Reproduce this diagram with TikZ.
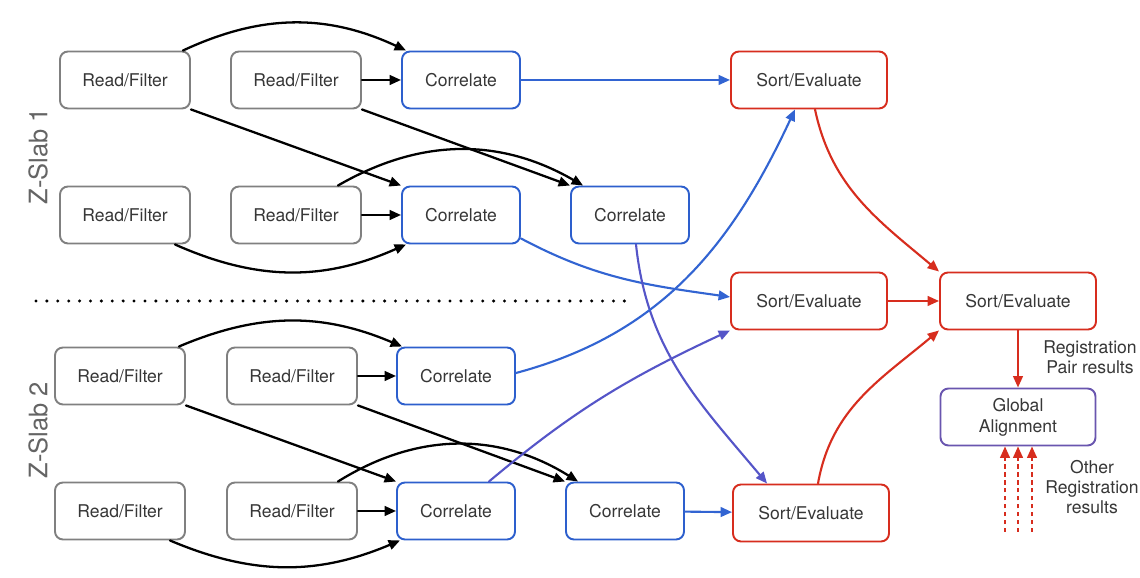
\documentclass[tikz,border=0pt]{standalone}
\usepackage{fontspec}
\setmainfont{TeX Gyre Heros}
\usetikzlibrary{arrows.meta}

\definecolor{rfgray}{RGB}{128,128,128}
\definecolor{slabgray}{RGB}{100,100,100}
\definecolor{corrblue}{RGB}{45,95,205}
\definecolor{linkblue}{RGB}{50,100,210}
\definecolor{linkviolet}{RGB}{85,85,200}
\definecolor{sortred}{RGB}{215,45,30}
\definecolor{glpurple}{RGB}{105,85,175}
\definecolor{txtgray}{RGB}{55,55,55}

\begin{document}
\begin{tikzpicture}[line cap=round,line join=round,>={Triangle[length=6.5pt,width=5.5pt]},x=1.0cm,y=1.0cm,
  box/.style={draw,rounded corners=0.16cm,line width=1.1pt,minimum height=1.14cm,text=txtgray,font=\fontsize{10}{12}\selectfont,align=center},
  rf/.style={box,draw=rfgray,minimum width=2.6cm},
  corr/.style={box,draw=corrblue,minimum width=2.36cm},
  sorteval/.style={box,draw=sortred,minimum width=3.12cm},
  glob/.style={box,draw=glpurple,minimum width=3.1cm},
  feed/.style={->,line width=1.3pt,black},
  blink/.style={->,line width=1.2pt,linkblue},
  vlink/.style={->,line width=1.2pt,linkviolet},
  rlink/.style={->,line width=1.2pt,sortred},
  note/.style={text=txtgray,font=\fontsize{10}{11.5}\selectfont,align=center},
  slab/.style={text=slabgray,font=\fontsize{14.5}{17}\selectfont,rotate=90}]
\useasboundingbox[fill=white] (0,0) rectangle (22.8,11.56);
% Z-slab 1
\node[rf] (rf11) at (2.50,9.96) {Read/Filter};
\node[rf] (rf12) at (5.92,9.96) {Read/Filter};
\node[corr] (c1) at (9.22,9.96) {Correlate};
\node[rf] (rf21) at (2.50,7.26) {Read/Filter};
\node[rf] (rf22) at (5.92,7.26) {Read/Filter};
\node[corr] (c2) at (9.22,7.26) {Correlate};
\node[corr] (c3) at (12.60,7.26) {Correlate};
% Z-slab 2
\node[rf] (rf31) at (2.40,4.04) {Read/Filter};
\node[rf] (rf32) at (5.84,4.04) {Read/Filter};
\node[corr] (c4) at (9.12,4.04) {Correlate};
\node[rf] (rf41) at (2.40,1.34) {Read/Filter};
\node[rf] (rf42) at (5.84,1.34) {Read/Filter};
\node[corr] (c5) at (9.12,1.34) {Correlate};
\node[corr] (c6) at (12.50,1.34) {Correlate};
% sort / evaluate
\node[sorteval] (se1) at (16.18,9.96) {Sort/Evaluate};
\node[sorteval] (se2) at (16.18,5.54) {Sort/Evaluate};
\node[sorteval] (se3) at (16.22,1.30) {Sort/Evaluate};
\node[sorteval] (se4) at (20.36,5.54) {Sort/Evaluate};
\node[glob] (ga) at (20.36,3.22) {Global\\Alignment};
\node[note] (regpair) at (21.80,4.42) {Registration\\Pair results};
\node[note] (othres) at (21.84,1.82) {Other\\Registration\\results};
\node[slab] (zs1) at (0.76,8.44) {Z-Slab 1};
\node[slab] (zs2) at (0.76,2.96) {Z-Slab 2};
\coordinate (oth1) at (20.10,0.92);
\coordinate (oth2) at (20.36,0.92);
\coordinate (oth3) at (20.64,0.92);
\draw [line width=1.9pt,dash pattern=on 0pt off 6.2pt] (0.72,5.54)-- (12.50,5.54);
% read/filter -> correlate
\draw [feed] ([xshift=-0.16cm]rf11.north east) to[bend left=25] ([xshift=0.1cm]c1.north west);
\draw [feed] (rf12) -- (c1);
\draw [feed] (rf11.south east) -- (c2.north west);
\draw [feed] (rf12.south east) -- (c3.north west);
\draw [feed] ([xshift=-0.32cm]rf21.south east) to[bend right=24] ([xshift=0.1cm]c2.south west);
\draw [feed] (rf22) -- (c2);
\draw [feed] ([xshift=-0.48cm]rf22.north east) to[bend left=30] ([xshift=0.26cm]c3.north west);
\draw [feed] ([xshift=-0.14cm]rf31.north east) to[bend left=23] ([xshift=0.12cm]c4.north west);
\draw [feed] (rf32) -- (c4);
\draw [feed] (rf31.south east) -- (c5.north west);
\draw [feed] (rf32.south east) -- (c6.north west);
\draw [feed] ([xshift=-0.32cm]rf41.south east) to[bend right=23] ([xshift=0.08cm]c5.south west);
\draw [feed] (rf42) -- (c5);
\draw [feed] ([xshift=-0.4cm]rf42.north east) to[bend left=32] ([xshift=0.26cm]c6.north west);
% correlate -> sort/evaluate
\draw [blink] (c1) -- (se1);
\draw [blink] ([yshift=0.12cm]c2.south east) to[out=-28,in=172] ([yshift=0.08cm]se2.west);
\draw [vlink] ([xshift=0.12cm]c3.south) to[out=-84,in=130] ([xshift=0.7cm]se3.north west);
\draw [blink] ([yshift=0.06cm]c4.east) to[out=15,in=-115] ([xshift=-0.28cm]se1.south);
\draw [vlink] ([xshift=-0.54cm]c5.north east) to[out=40,in=-155] (se2.south west);
\draw [blink] (c6) -- (se3);
% sort/evaluate -> global
\draw [rlink] ([xshift=0.12cm]se1.south) to[out=-78,in=140] (se4.north west);
\draw [rlink] (se2) -- (se4);
\draw [rlink] ([xshift=0.14cm]se3.north) to[out=80,in=-140] (se4.south west);
\draw [rlink] (se4) -- (ga);
\draw [rlink,line cap=butt,dash pattern=on 2.5pt off 2pt] (oth1) -- (oth1 |- ga.south);
\draw [rlink,line cap=butt,dash pattern=on 2.5pt off 2pt] (oth2) -- (oth2 |- ga.south);
\draw [rlink,line cap=butt,dash pattern=on 2.5pt off 2pt] (oth3) -- (oth3 |- ga.south);
\end{tikzpicture}
\end{document}
